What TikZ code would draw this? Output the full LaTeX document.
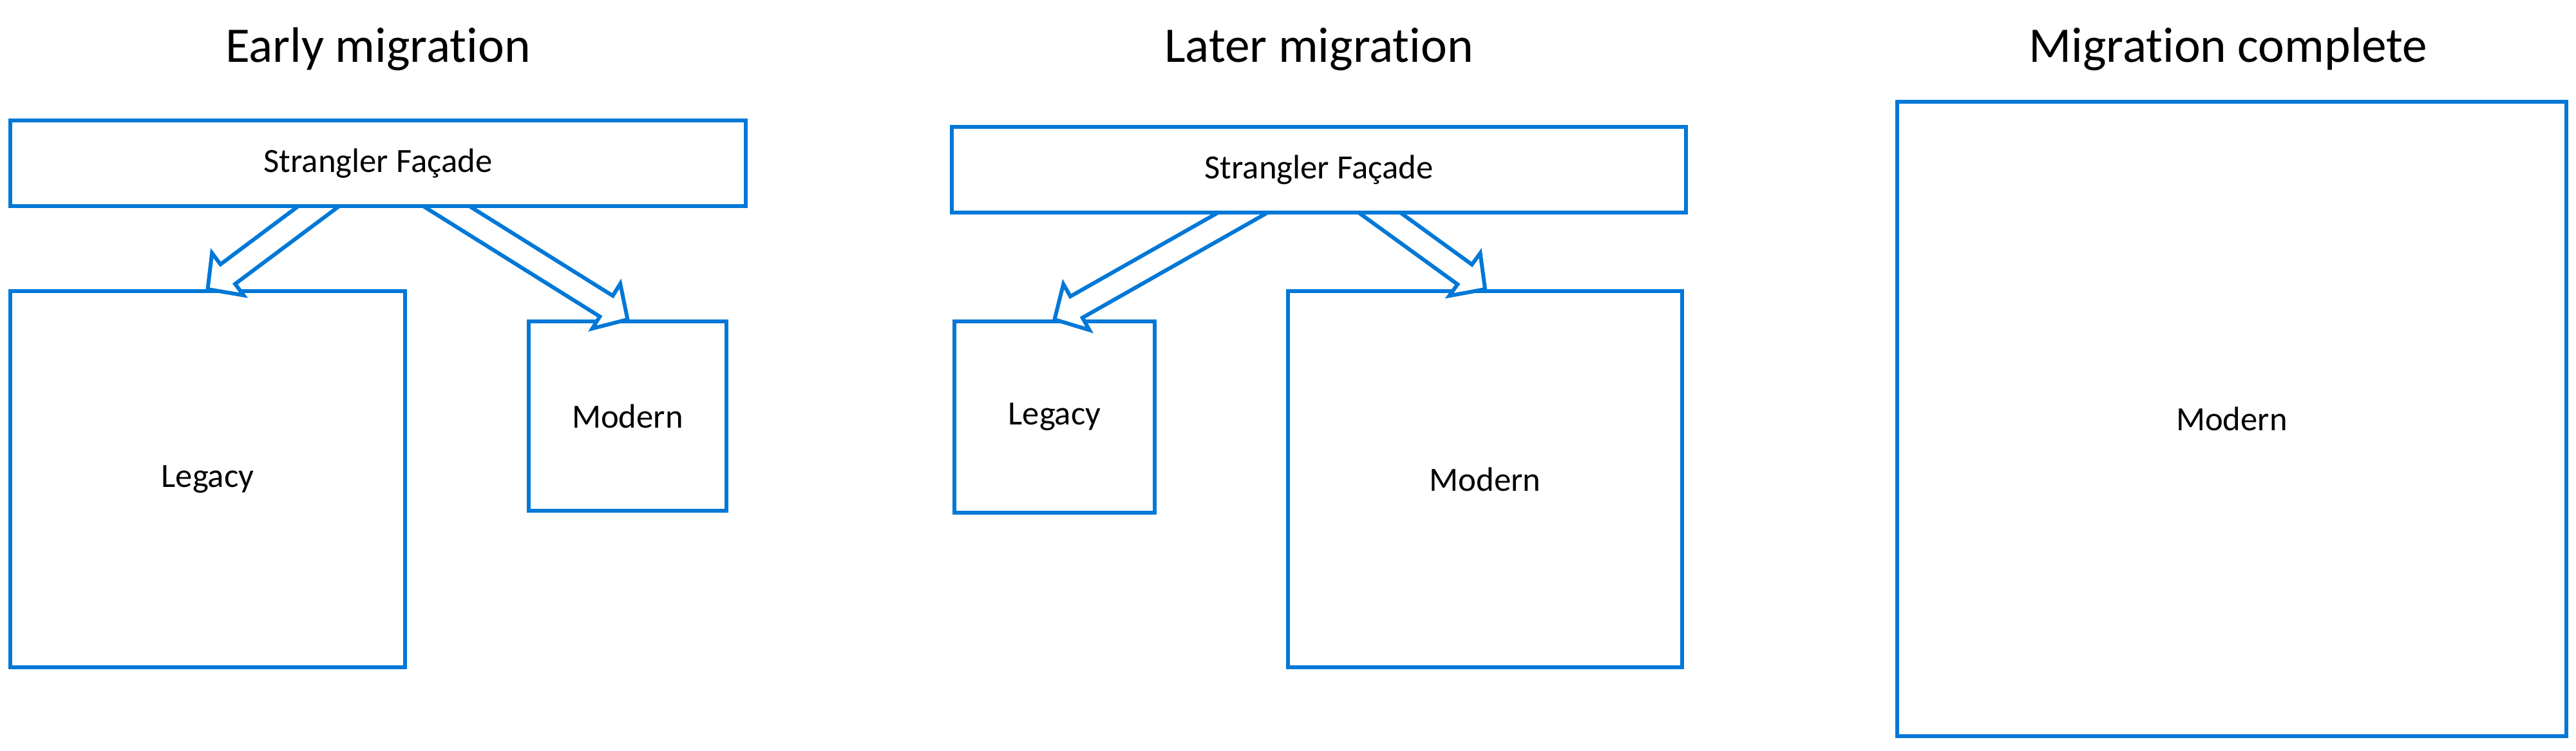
\documentclass[tikz,border=0pt]{standalone}
\usepackage{fontspec}
\setmainfont{Carlito}[Ligatures=NoCommon]
\usepackage{xcolor}
\usepackage{tikz}
\usetikzlibrary{calc}
\definecolor{msblue}{HTML}{0078D7}
\newcommand{\titlefont}{\fontsize{22pt}{26pt}\selectfont}
\newcommand{\labelfont}{\fontsize{15pt}{18pt}\selectfont}
\newcommand{\hollowarrow}[2]{%
    \coordinate (sb) at ($(#1)!-0.4cm!(#2)$);
    \coordinate (hb) at ($(#2)!0.39cm!(#1)$);
    \draw[arrowline] ($(sb)!0.19cm!90:(#2)$) -- ($(hb)!0.19cm!90:(#2)$) -- ($(hb)!0.41cm!90:(#2)$) -- (#2)
        -- ($(hb)!0.41cm!-90:(#2)$) -- ($(hb)!0.19cm!-90:(#2)$) -- ($(sb)!0.19cm!-90:(#2)$);}

\begin{document}
\begin{tikzpicture}
    [box/.style ={rectangle, draw=msblue, line width=0.06cm, fill=white, inner sep=0pt, align=center, font=\labelfont},
 title/.style ={anchor=base, font=\titlefont},
 arrowline/.style ={draw=msblue, line width=0.06cm, fill=white, line join=miter}]
        \useasboundingbox (0,0) rectangle (40,-11.66);
        \node[title] (t1) at (5.87, -0.97) {Early migration};
        \node[title] (t2) at (20.48, -0.97) {Later migration};
        \node[title] (t3) at (34.6, -0.97) {Migration complete};
        \node[box, minimum width=6.13cm, minimum height=5.84cm] (legacy1) at (3.225, -7.44) {Legacy};
        \node[box, minimum width=3.07cm, minimum height=2.94cm] (modern1) at (9.745, -6.46) {Modern};
        \node[box, minimum width=3.11cm, minimum height=2.97cm] (legacy2) at (16.375, -6.475) {Legacy};
        \node[box, minimum width=6.12cm, minimum height=5.84cm] (modern2) at (23.06, -7.44) {Modern};
        \node[box, minimum width=10.39cm, minimum height=9.85cm] (modern3) at (34.655, -6.505) {Modern};
        \coordinate (s1l) at (4.95, -3.20);
        \coordinate (s1r) at (6.93, -3.20);
        \coordinate (s2l) at (19.30, -3.30);
        \coordinate (s2r) at (21.42, -3.30);
        \hollowarrow{s1l}{legacy1.north}
        \hollowarrow{s1r}{modern1.north}
        \hollowarrow{s2l}{legacy2.north}
        \hollowarrow{s2r}{modern2.north}
        \node[box, minimum width=11.42cm, minimum height=1.33cm] (sf1) at (5.87, -2.535) {Strangler Façade};
        \node[box, minimum width=11.40cm, minimum height=1.33cm] (sf2) at (20.48, -2.635) {Strangler Façade};
    \end{tikzpicture}
\end{document}
